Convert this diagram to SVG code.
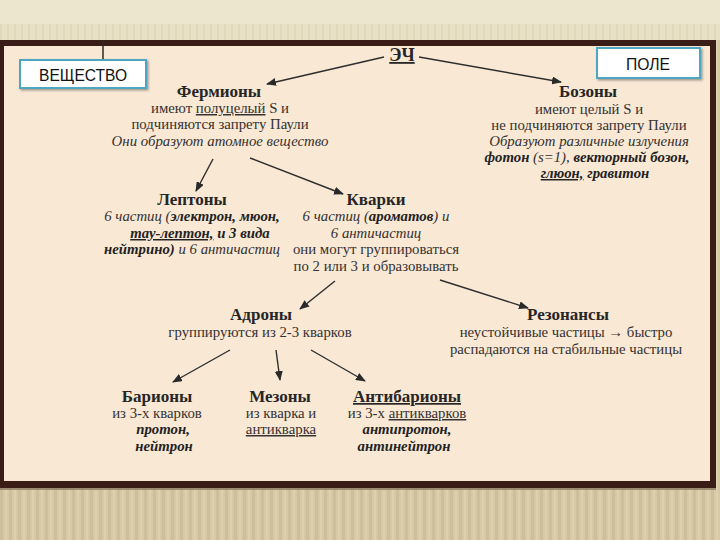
<svg xmlns="http://www.w3.org/2000/svg" width="720" height="540" viewBox="0 0 720 540">
<defs>
<pattern id="stripes" x="0" y="0" width="9" height="10" patternUnits="userSpaceOnUse">
<rect width="9" height="10" fill="#d6c9a5"/>
<rect x="0" width="3" height="10" fill="#cdbf99"/>
<rect x="5" width="2" height="10" fill="#dcd0ad"/>
</pattern>
<pattern id="topstripes" x="0" y="0" width="7" height="10" patternUnits="userSpaceOnUse">
<rect width="7" height="10" fill="#e9e1c6"/>
<rect x="0" width="2" height="10" fill="#e2d9bc"/>
</pattern>
<marker id="ah" markerWidth="10" markerHeight="8" refX="9" refY="4" orient="auto" markerUnits="userSpaceOnUse">
<path d="M0,0 L10,4 L0,8 Z" fill="#2a2a2a"/>
</marker>
<filter id="sh" x="-10%" y="-10%" width="130%" height="140%">
<feDropShadow dx="1.5" dy="1.5" stdDeviation="1" flood-color="#000" flood-opacity="0.35"/>
</filter>
</defs>
<style>
.h{font-family:"Liberation Serif",serif;font-weight:bold;font-size:17px;fill:#262626;text-anchor:middle}
.t{font-family:"Liberation Serif",serif;font-size:14.8px;fill:#353131;text-anchor:middle}
.i{font-style:italic}
.b{font-weight:bold;fill:#222}
.u{text-decoration:underline}
.box{fill:#ffffff;stroke:#4ea6c2;stroke-width:2}
.bt{font-family:"Liberation Sans",sans-serif;font-size:16px;fill:#111;text-anchor:middle}
.c{stroke:#2e2e2e;stroke-width:1.4;fill:none}
</style>
<!-- background -->
<rect x="0" y="0" width="720" height="540" fill="url(#stripes)"/>
<rect x="0" y="0" width="720" height="24" fill="#ede6ce"/>
<rect x="0" y="24" width="720" height="16" fill="url(#topstripes)"/>
<rect x="0" y="40" width="716" height="448" fill="#3a1d17"/>
<rect x="4" y="46" width="706" height="435" fill="#f8e8d4"/>
<line x1="0" y1="489" x2="716" y2="489" stroke="#8a7a60" stroke-width="1.5"/>

<!-- connectors -->
<g id="connectors">
<line x1="103" y1="40" x2="103" y2="60" stroke="#2a2a2a" stroke-width="1.5"/>
<line class="c" x1="384" y1="57" x2="267" y2="84" marker-end="url(#ah)"/>
<line class="c" x1="419" y1="57" x2="561" y2="82" marker-end="url(#ah)"/>
<line class="c" x1="213" y1="159" x2="196" y2="191" marker-end="url(#ah)"/>
<line class="c" x1="250" y1="158" x2="343" y2="194" marker-end="url(#ah)"/>
<line class="c" x1="335" y1="281" x2="300" y2="309" marker-end="url(#ah)"/>
<line class="c" x1="440" y1="280" x2="528" y2="308" marker-end="url(#ah)"/>
<line class="c" x1="230" y1="350" x2="173" y2="382" marker-end="url(#ah)"/>
<line class="c" x1="276" y1="350" x2="280" y2="380" marker-end="url(#ah)"/>
<line class="c" x1="311" y1="350" x2="365" y2="381" marker-end="url(#ah)"/>
</g>

<g id="veschestvo">
<rect class="box" x="20" y="60" width="126" height="28" filter="url(#sh)"/>
<text class="bt" x="83" y="81" textLength="88" lengthAdjust="spacingAndGlyphs">ВЕЩЕСТВО</text>
</g>
<g id="pole">
<rect class="box" x="597" y="48" width="103" height="30" filter="url(#sh)"/>
<text class="bt" x="648" y="70" textLength="44" lengthAdjust="spacingAndGlyphs">ПОЛЕ</text>
</g>

<g id="ech">
<text class="h u" x="402" y="61" style="font-size:18px">ЭЧ</text>
</g>

<g id="fermiony">
<text class="h" x="219" y="97">Фермионы</text>
<text class="t" x="220" y="113">имеют <tspan class="u">полуцелый</tspan> S и</text>
<text class="t" x="220" y="129">подчиняются запрету Паули</text>
<text class="t i" x="220" y="146">Они образуют атомное вещество</text>
</g>

<g id="bozony">
<text class="h" x="588" y="97">Бозоны</text>
<text class="t" x="589" y="114">имеют целый S и</text>
<text class="t" x="589" y="130">не подчиняются запрету Паули</text>
<text class="t i" x="589" y="146">Образуют различные излучения</text>
<text class="t i" x="587" y="162"><tspan class="b">фотон</tspan> (s=1), <tspan class="b">векторный бозон,</tspan></text>
<text class="t i" x="595" y="178"><tspan class="b u">глюон,</tspan> <tspan class="b">гравитон</tspan></text>
</g>

<g id="leptony">
<text class="h" x="192" y="205">Лептоны</text>
<text class="t i" x="192" y="221">6 частиц (<tspan class="b">электрон, мюон,</tspan></text>
<text class="t i b" x="200" y="238"><tspan class="u">тау-лептон,</tspan> и 3 вида</text>
<text class="t i" x="192" y="254"><tspan class="b">нейтрино)</tspan> и 6 античастиц</text>
</g>

<g id="kvarki">
<text class="h" x="376" y="205">Кварки</text>
<text class="t i" x="376" y="221">6 частиц (<tspan class="b">ароматов</tspan>) и</text>
<text class="t i" x="376" y="238">6 античастиц</text>
<text class="t" x="376" y="254">они могут группироваться</text>
<text class="t" x="376" y="271">по 2 или 3 и образовывать</text>
</g>

<g id="adrony">
<text class="h" x="261" y="320">Адроны</text>
<text class="t" x="260" y="337">группируются из 2-3 кварков</text>
</g>

<g id="rezonansy">
<text class="h" x="568" y="320">Резонансы</text>
<text class="t" x="566" y="337">неустойчивые частицы → быстро</text>
<text class="t" x="566" y="354">распадаются на стабильные частицы</text>
</g>

<g id="bariony">
<text class="h" x="157" y="402">Барионы</text>
<text class="t" x="157" y="418">из 3-х кварков</text>
<text class="t i b" x="163" y="434">протон,</text>
<text class="t i b" x="164" y="451">нейтрон</text>
</g>

<g id="mezony">
<text class="h" x="280" y="402">Мезоны</text>
<text class="t" x="281" y="418">из кварка и</text>
<text class="t u" x="281" y="434">антикварка</text>
</g>

<g id="antibariony">
<text class="h u" x="407" y="402">Антибарионы</text>
<text class="t" x="407" y="418">из 3-х <tspan class="u">антикварков</tspan></text>
<text class="t i b" x="407" y="434">антипротон,</text>
<text class="t i b" x="404" y="451">антинейтрон</text>
</g>
</svg>
